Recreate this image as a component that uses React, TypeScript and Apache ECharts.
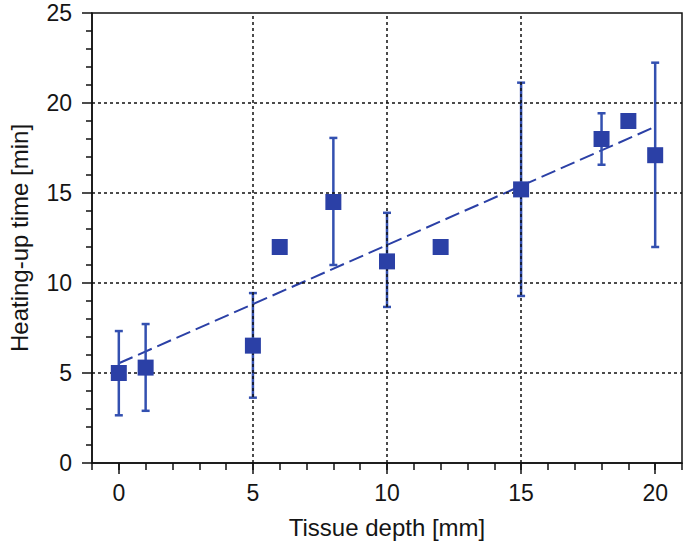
import React, { useEffect, useRef } from "react";
import * as echarts from "echarts";

const depths = [0, 1, 5, 6, 8, 10, 12, 15, 18, 19, 20];
const heatTimes = [5.0, 5.3, 6.52, 12.0, 14.5, 11.2, 12.0, 15.2, 18.0, 19.0, 17.1];
const errLow = [2.65, 2.9, 3.63, null, 11.0, 8.67, null, 9.28, 16.57, null, 12.0];
const errHigh = [7.33, 7.72, 9.44, null, 18.06, 13.9, null, 21.13, 19.43, null, 22.24];
const trendX = [0, 20];
const trendY = [5.54, 18.68];
const xGridValues = [5, 10, 15];
const yGridValues = [5, 10, 15, 20];
const xMajorTicks = [0, 5, 10, 15, 20];

const BLUE = "#2b40a6";
const BAR_BLUE = "#3350b0";
const FONT = "Liberation Sans, Arial, Helvetica, sans-serif";
const TEXT = "#151515";

export default function App() {
  const ref = useRef<HTMLDivElement>(null);
  useEffect(() => {
    if (!ref.current) return;
    const chart = echarts.init(ref.current, undefined, { renderer: "svg" });
    const errData = depths
      .map((d, i) => [d, errLow[i], errHigh[i]])
      .filter((r) => r[1] != null);
    const gridMarks = [
      ...xGridValues.map((v) => ({ xAxis: v })),
      ...yGridValues.map((v) => ({ yAxis: v })),
    ];
    chart.setOption({
      animation: false,
      backgroundColor: "#fff",
      grid: {
        left: 92,
        top: 13,
        right: 3,
        bottom: 82,
        show: true,
        containLabel: false,
        outerBoundsMode: "none",
        borderColor: "#111",
        borderWidth: 1.5,
        backgroundColor: "transparent",
      },
      xAxis: [
        {
          type: "value",
          min: -1,
          max: 21,
          interval: 1,
          axisLine: { show: true, onZero: false, lineStyle: { color: "#111", width: 1.5 } },
          axisTick: { show: true, length: 7, lineStyle: { color: "#111", width: 1.5 } },
          axisLabel: { show: false },
          splitLine: { show: false },
        },
        {
          type: "value",
          min: -1,
          max: 21,
          interval: 1,
          position: "bottom",
          axisLine: { show: false, onZero: false },
          axisTick: {
            show: true,
            length: 11,
            customValues: xMajorTicks,
            lineStyle: { color: "#111", width: 1.5 },
          },
          axisLabel: {
            show: true,
            customValues: xMajorTicks,
            fontSize: 23,
            fontFamily: FONT,
            color: TEXT,
            margin: 18,
          },
          splitLine: { show: false },
          name: "Tissue depth [mm]",
          nameLocation: "middle",
          nameGap: 52,
          nameTextStyle: { fontSize: 24, fontFamily: FONT, color: TEXT },
        },
      ],
      yAxis: {
        type: "value",
        min: 0,
        max: 25,
        interval: 5,
        axisLine: { show: true, onZero: false, lineStyle: { color: "#111", width: 1.5 } },
        axisTick: { show: true, length: 10, lineStyle: { color: "#111", width: 1.5 } },
        minorTick: { show: true, splitNumber: 5, length: 6, lineStyle: { color: "#111", width: 1.5 } },
        axisLabel: { fontSize: 23, fontFamily: FONT, color: TEXT, margin: 20 },
        splitLine: { show: false },
        name: "Heating-up time [min]",
        nameLocation: "middle",
        nameGap: 61,
        nameTextStyle: { fontSize: 24, fontFamily: FONT, color: TEXT },
      },
      series: [
        {
          type: "scatter",
          data: [],
          silent: true,
          z: 1,
          markLine: {
            silent: true,
            symbol: "none",
            label: { show: false },
            lineStyle: { color: "#111", type: [3, 3], width: 1.5, opacity: 1 },
            emphasis: { disabled: true },
            data: gridMarks,
          },
        },
        {
          type: "line",
          data: trendX.map((x, i) => [x, trendY[i]]),
          showSymbol: false,
          symbol: "none",
          z: 3,
          lineStyle: { color: BLUE, width: 2, type: [15, 6] },
        },
        {
          type: "custom",
          z: 4,
          data: errData,
          renderItem: (params: any, api: any) => {
            const x = api.value(0);
            const lo = api.coord([x, api.value(1)]);
            const hi = api.coord([x, api.value(2)]);
            const cap = 4;
            const style = { stroke: BAR_BLUE, lineWidth: 2.5 };
            return {
              type: "group",
              children: [
                { type: "line", shape: { x1: lo[0], y1: lo[1], x2: hi[0], y2: hi[1] }, style },
                { type: "line", shape: { x1: lo[0] - cap, y1: lo[1], x2: lo[0] + cap, y2: lo[1] }, style },
                { type: "line", shape: { x1: hi[0] - cap, y1: hi[1], x2: hi[0] + cap, y2: hi[1] }, style },
              ],
            };
          },
        },
        {
          type: "scatter",
          z: 5,
          symbol: "rect",
          symbolSize: 16,
          itemStyle: { color: BLUE, opacity: 1 },
          data: depths.map((d, i) => [d, heatTimes[i]]),
        },
      ],
    });
    return () => chart.dispose();
  }, []);
  return (
    <div
      ref={ref}
      style={{ position: "absolute", left: 0, top: 0, width: 685, height: 545 }}
    />
  );
}
